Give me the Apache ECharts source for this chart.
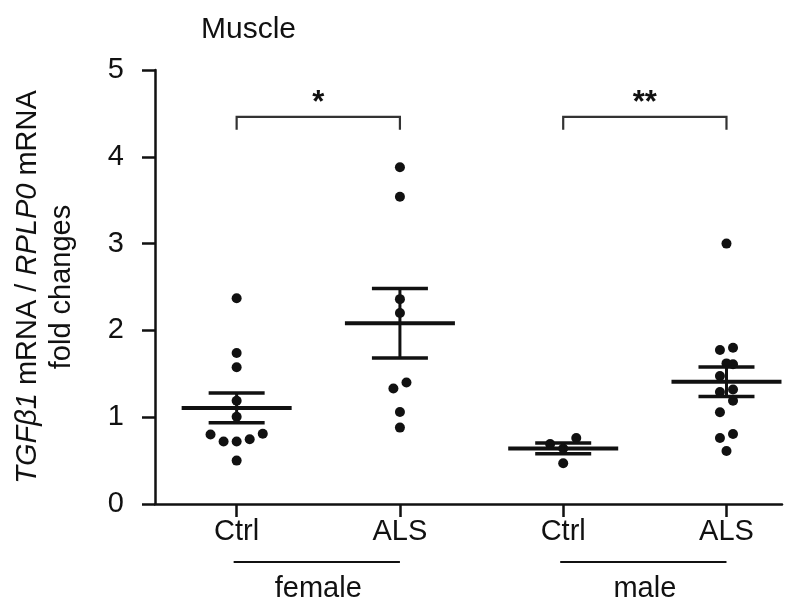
<!DOCTYPE html>
<html><head><meta charset="utf-8">
<script src="https://cdn.jsdelivr.net/npm/echarts@6/dist/echarts.min.js"></script>
<style>html,body{margin:0;padding:0;background:#fff}#c{width:797px;height:601px}</style>
</head><body><div id="c"></div>
<script>
// ---- data ----
const categories = ['Ctrl', 'ALS', 'Ctrl', 'ALS'];
const groupNames = ['female', 'male'];
const femaleCtrl = [2.37, 1.74, 1.575, 1.19, 1.006, 0.80, 0.72, 0.72, 0.745, 0.81, 0.50];
const femaleALS = [3.88, 3.54, 2.36, 2.20, 1.40, 1.33, 1.06, 0.88];
const maleCtrl = [0.76, 0.69, 0.64, 0.47];
const maleALS = [3.00, 1.80, 1.775, 1.62, 1.61, 1.475, 1.32, 1.29, 1.19, 1.056, 0.806, 0.76, 0.61];
const yTicks = [0, 1, 2, 3, 4, 5];
const significance = [{ from: 1, to: 2, label: '*' }, { from: 3, to: 4, label: '**' }];
const titleText = 'Muscle';

// ---- layout / style constants ----
const FONT = '"Liberation Sans", Arial, sans-serif';
const INK = '#111';
const FS = 29;
const BRACKET_LEVEL = 4.46;

const groups = [femaleCtrl, femaleALS, maleCtrl, maleALS];

function swarm(vals, xc) {
  const sorted = vals.slice().sort((a, b) => a - b);
  const bins = []; let g = [];
  for (const v of sorted) {
    if (g.length && v - g[0] > 0.14) { bins.push(g); g = []; }
    g.push(v);
  }
  if (g.length) bins.push(g);
  const step = 0.08;
  const pts = [];
  for (const grp of bins) {
    const n = grp.length; const slots = [];
    if (n % 2) { slots.push(0); for (let k = 1; slots.length < n; k++) { slots.push(-k); if (slots.length < n) slots.push(k); } }
    else { for (let k = 0.5; slots.length < n; k++) { slots.push(-k); slots.push(k); } }
    grp.forEach((v, i) => pts.push([xc + slots[i] * step, v]));
  }
  return pts;
}
function mean(a) { return a.reduce((s, v) => s + v, 0) / a.length; }
function sem(a) { const m = mean(a); const v = a.reduce((s, x) => s + (x - m) * (x - m), 0) / (a.length - 1); return Math.sqrt(v) / Math.sqrt(a.length); }

const scatterData = [];
groups.forEach((g, i) => swarm(g, i + 1).forEach(p => scatterData.push(p)));
const statData = groups.map((g, i) => [i + 1, mean(g), sem(g)]);
const bracketData = significance.map(s => [s.from, s.to, s.label]);
const sexData = groupNames.map((n, i) => [2 * i + 1, 2 * i + 2, n]);

const chart = echarts.init(document.getElementById('c'), null, { renderer: 'canvas' });
chart.setOption({
  animation: false,
  backgroundColor: '#fff',
  textStyle: { fontFamily: FONT },
  title: { text: titleText, left: 196, top: 10, textStyle: { fontFamily: FONT, fontSize: 30, fontWeight: 'normal', color: INK } },
  grid: { left: 155, right: 15, top: 70, bottom: 97, containLabel: false },
  xAxis: {
    type: 'value', min: 0.5, max: 4.34,
    axisLine: { show: true, onZero: false, lineStyle: { color: INK, width: 2.5 } },
    axisTick: { show: true, length: 13, lineStyle: { color: INK, width: 2.5 }, customValues: [1, 2, 3, 4] },
    axisLabel: { customValues: [1, 2, 3, 4], formatter: v => categories[Math.round(v) - 1], fontSize: FS, color: INK, fontFamily: FONT, margin: 13 },
    splitLine: { show: false }
  },
  yAxis: {
    type: 'value', min: 0, max: 5, interval: 1,
    axisLine: { show: true, lineStyle: { color: INK, width: 2.5 } },
    axisTick: { show: true, length: 13, lineStyle: { color: INK, width: 2.5 } },
    axisLabel: { fontSize: FS, color: INK, fontFamily: FONT, margin: 31 },
    splitLine: { show: false },
    name: '{i|TGF\u03B21} mRNA / {i|RPLP0} mRNA\nfold changes',
    nameLocation: 'middle', nameRotate: 90, nameGap: 76,
    nameTextStyle: { fontSize: FS, color: INK, fontFamily: FONT, lineHeight: 34, align: 'center',
      rich: { i: { fontStyle: 'italic', fontSize: FS, color: INK, fontFamily: FONT, lineHeight: 34 } } }
  },
  series: [
    {
      type: 'scatter', data: scatterData, symbol: 'circle', symbolSize: 10,
      itemStyle: { color: INK, opacity: 1 }, z: 3
    },
    {
      type: 'custom', data: statData, clip: false, z: 4,
      renderItem(params, api) {
        const x = api.value(0), m = api.value(1), s = api.value(2);
        const c = api.coord([x, m]), t = api.coord([x, m + s]), b = api.coord([x, m - s]);
        return { type: 'group', children: [
          { type: 'line', shape: { x1: c[0] - 55, y1: c[1], x2: c[0] + 55, y2: c[1] }, style: { stroke: INK, lineWidth: 4 } },
          { type: 'line', shape: { x1: t[0] - 28, y1: t[1], x2: t[0] + 28, y2: t[1] }, style: { stroke: INK, lineWidth: 3.5 } },
          { type: 'line', shape: { x1: b[0] - 28, y1: b[1], x2: b[0] + 28, y2: b[1] }, style: { stroke: INK, lineWidth: 3.5 } },
          { type: 'line', shape: { x1: c[0], y1: t[1], x2: c[0], y2: b[1] }, style: { stroke: INK, lineWidth: 3 } }
        ] };
      }
    },
    {
      type: 'custom', data: bracketData, clip: false, z: 4,
      renderItem(params, api) {
        const a = api.coord([api.value(0), BRACKET_LEVEL]);
        const b = api.coord([api.value(1), BRACKET_LEVEL]);
        const label = bracketData[params.dataIndex][2];
        return { type: 'group', children: [
          { type: 'polyline', shape: { points: [[a[0], a[1] + 13], [a[0], a[1]], [b[0], b[1]], [b[0], b[1] + 13]] }, style: { stroke: '#333', lineWidth: 2.2, fill: null } },
          { type: 'text', style: { text: label, x: (a[0] + b[0]) / 2, y: a[1] - 13, align: 'center', verticalAlign: 'middle', font: 'bold 31px ' + FONT, fill: INK } }
        ] };
      }
    },
    {
      type: 'custom', data: sexData, clip: false, z: 4,
      renderItem(params, api) {
        const a = api.coord([api.value(0), 0]);
        const b = api.coord([api.value(1), 0]);
        const label = sexData[params.dataIndex][2];
        return { type: 'group', children: [
          { type: 'line', shape: { x1: a[0] - 3, y1: a[1] + 58, x2: b[0], y2: b[1] + 58 }, style: { stroke: INK, lineWidth: 2 } },
          { type: 'text', style: { text: label, x: (a[0] + b[0]) / 2, y: a[1] + 85, align: 'center', verticalAlign: 'middle', font: FS + 'px ' + FONT, fill: INK } }
        ] };
      }
    }
  ]
});
</script>
</body></html>
